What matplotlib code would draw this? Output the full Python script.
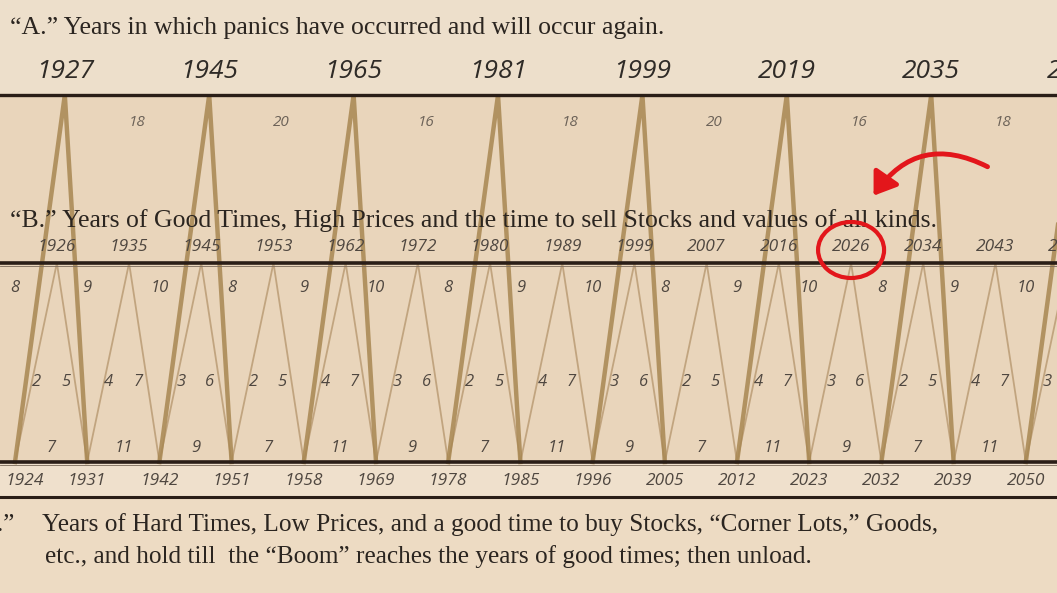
import numpy as np
import matplotlib.pyplot as plt
from matplotlib.patches import Ellipse, FancyArrowPatch, Rectangle

# Benner cycle data
panic_years = [1927, 1945, 1965, 1981, 1999, 2019, 2035, 2053]
panic_gaps = [18, 20, 16, 18, 20, 16, 18]
good_years = [1926, 1935, 1945, 1953, 1962, 1972, 1980, 1989, 1999,
              2007, 2016, 2026, 2034, 2043, 2053]
good_gaps = [8, 9, 10, 8, 9, 10, 8, 9, 10, 8, 9, 10, 8, 9, 10]
hard_years = [1924, 1931, 1942, 1951, 1958, 1969, 1978, 1985, 1996,
              2005, 2012, 2023, 2032, 2039, 2050, 2059]
hard_gaps = [7, 11, 9, 7, 11, 9, 7, 11, 9, 7, 11, 9, 7, 11, 9]
rise = [2, 4, 3, 2, 4, 3, 2, 4, 3, 2, 4, 3, 2, 4, 3]
fall = [5, 7, 6, 5, 7, 6, 5, 7, 6, 5, 7, 6, 5, 7, 6]

# layout (y in pixel-like units, x in cycle index units)
yA, yB, yC, yD = 95, 263, 462, 497
step = 72.2
x0 = 15
W, H = 1057, 593

fig = plt.figure(figsize=(W/100, H/100), dpi=100)
fig.patch.set_facecolor('#E9D5BB')
ax = fig.add_axes([0, 0, 1, 1])
ax.set_xlim(-x0/step, (W - x0)/step)
ax.set_ylim(H, 0)
ax.axis('off')

px = 1/step  # one pixel in x units
# background bands
ax.add_patch(Rectangle((-1, 0), 20, yA, color='#EDDFCB', zorder=0))
ax.add_patch(Rectangle((-1, yC), 20, yD - yC, color='#EFE0CC', zorder=0))
ax.add_patch(Rectangle((-1, yD), 20, H - yD, color='#EDDBC3', zorder=0))

hard_x = np.arange(len(hard_years))
good_x = np.arange(len(good_years)) + 0.5 + 0.08
panic_x = 2*np.arange(len(panic_years)) + 0.5 + 0.19

thick = '#A88752'
thin = '#BFA27C'

# big panic triangles
for i, p in enumerate(panic_x):
    l, r = hard_x[2*i], hard_x[2*i + 1]
    ax.plot([l, p, r], [yC, yA, yC], color=thick, lw=3.2, alpha=0.85,
            solid_joinstyle='miter', zorder=2)

# small good-times triangles
for j, g in enumerate(good_x):
    ax.plot([hard_x[j], g, hard_x[j + 1]], [yC, yB, yC], color=thin,
            lw=1.3, alpha=0.95, zorder=1.5)

# horizontal rules
for y, lw in [(yA, 2.4), (yB, 2.6), (yC, 2.6), (yD, 2.2)]:
    ax.axhline(y, color='#2A1E17', lw=lw, zorder=3)
ax.axhline(yB + 3, color='#7A6A5A', lw=0.6, zorder=3)
ax.axhline(yC + 3, color='#7A6A5A', lw=0.6, zorder=3)

num_font = 'Open Sans'
serif = 'Liberation Serif'
ink = '#4F4740'

# panic year labels
for p, yr in zip(panic_x, panic_years):
    ax.text(p, 71, str(yr), fontsize=19, style='italic', family=num_font,
            color='#2F2B27', ha='center', va='center', zorder=4)
for k, gap in enumerate(panic_gaps):
    ax.text((panic_x[k] + panic_x[k + 1])/2, 123, str(gap), fontsize=11,
            style='italic', family=num_font, color='#6C6258', ha='center',
            va='center', zorder=4)

# good-times labels
for g, yr in zip(good_x, good_years):
    ax.text(g, 247, str(yr), fontsize=12.5, style='italic', family=num_font,
            color=ink, ha='center', va='center', zorder=4)
for j, gap in enumerate(good_gaps):
    ax.text(hard_x[j], 288, str(gap), fontsize=12, style='italic',
            family=num_font, color=ink, ha='center', va='center', zorder=4)
for j in range(len(rise)):
    c = good_x[j] - 0.08
    ax.text(c - 0.2, 382, str(rise[j]), fontsize=12, style='italic',
            family=num_font, color=ink, ha='center', va='center', zorder=4)
    ax.text(c + 0.2, 382, str(fall[j]), fontsize=12, style='italic',
            family=num_font, color=ink, ha='center', va='center', zorder=4)

# hard-times labels
for h, yr in zip(hard_x, hard_years):
    xx = h + (10*px if h == 0 else 0)
    ax.text(xx, 481, str(yr), fontsize=12.5, style='italic', family=num_font,
            color=ink, ha='center', va='center', zorder=4)
for j, gap in enumerate(hard_gaps):
    ax.text(hard_x[j] + 0.5, 448, str(gap), fontsize=12, style='italic',
            family=num_font, color=ink, ha='center', va='center', zorder=4)

# captions
def px_x(p):
    return (p - x0)/step

cap = dict(family=serif, color='#2B2520', va='center', zorder=4)
ax.text(px_x(10), 28, '\u201cA.\u201d Years in which panics have occurred and will occur again.',
        fontsize=18.5, **cap)
ax.text(px_x(10), 221, '\u201cB.\u201d Years of Good Times, High Prices and the time to sell Stocks and values of all kinds.',
        fontsize=18.5, **cap)
ax.text(px_x(15), 525, '\u201cC.\u201d', fontsize=18.2, ha='right', **cap)
ax.text(px_x(42), 525, 'Years of Hard Times, Low Prices, and a good time to buy Stocks, \u201cCorner Lots,\u201d Goods,',
        fontsize=18.2, **cap)
ax.text(px_x(45), 557, 'etc., and hold till  the \u201cBoom\u201d reaches the years of good times; then unload.',
        fontsize=18.2, **cap)

# red highlight around 2026
k26 = good_years.index(2026)
ax.add_patch(Ellipse((good_x[k26], 250), 66*px, 56, fill=False,
                     ec='#E3161B', lw=3, zorder=5))
ax.add_patch(FancyArrowPatch((px_x(990), 168), (px_x(872), 198),
                             connectionstyle='arc3,rad=0.45',
                             arrowstyle='-|>,head_length=13,head_width=9',
                             color='#E3161B', lw=3.5, zorder=5))

fig.savefig('out.png', dpi=100, facecolor=fig.get_facecolor())
